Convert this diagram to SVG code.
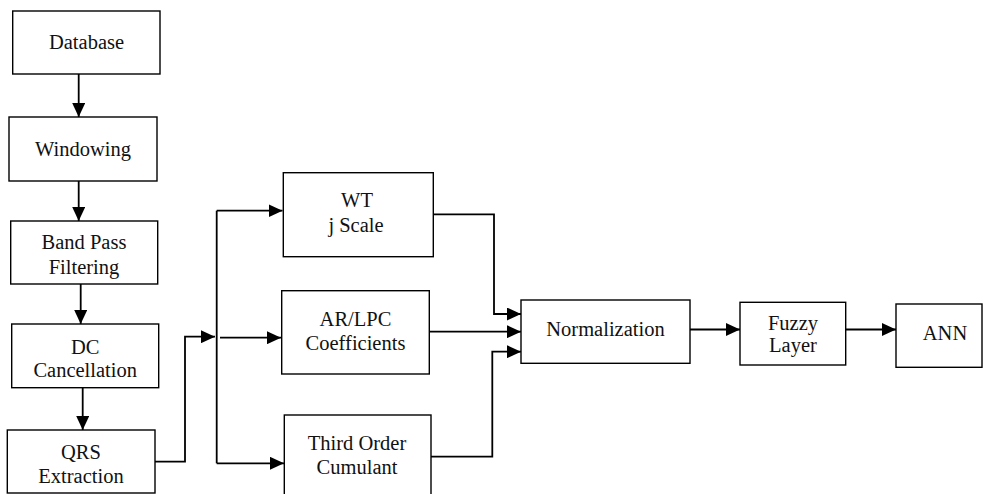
<svg xmlns="http://www.w3.org/2000/svg" width="983" height="494" viewBox="0 0 983 494">
<style>
.box{fill:#fff;stroke:#000;stroke-width:1.4}
.c{fill:none;stroke:#000;stroke-width:1.8}
text{font-family:'Liberation Serif','Times New Roman',Times,'DejaVu Serif',serif;font-size:20.5px;fill:#111;text-anchor:middle}
</style>
<defs>
<marker id="ah" markerUnits="userSpaceOnUse" markerWidth="15" markerHeight="13" refX="14" refY="6.5" orient="auto">
<path d="M0,0 L14,6.5 L0,13 z" fill="#000"/>
</marker>
</defs>
<rect width="983" height="494" fill="#fff"/>
<g id="connectors">
<path class="c" d="M78.7,74 V117" marker-end="url(#ah)"/>
<path class="c" d="M78.7,181 V221" marker-end="url(#ah)"/>
<path class="c" d="M80.7,284 V324" marker-end="url(#ah)"/>
<path class="c" d="M82.7,388 V430" marker-end="url(#ah)"/>
<path class="c" d="M155,461.7 H185 V336.7 H215" marker-end="url(#ah)"/>
<path class="c" d="M216.7,463.3 V210.7"/>
<path class="c" d="M216.7,210.7 H282.5" marker-end="url(#ah)"/>
<path class="c" d="M220,337.7 H281" marker-end="url(#ah)"/>
<path class="c" d="M216.7,463.3 H284" marker-end="url(#ah)"/>
<path class="c" d="M433.3,214.3 H494 V314 H521" marker-end="url(#ah)"/>
<path class="c" d="M429.3,331.7 H521" marker-end="url(#ah)"/>
<path class="c" d="M431,456.7 H492.3 V351.7 H521" marker-end="url(#ah)"/>
<path class="c" d="M690,329.5 H740" marker-end="url(#ah)"/>
<path class="c" d="M846,329.5 H896" marker-end="url(#ah)"/>
</g>
<g id="database"><rect class="box" x="12.7" y="11" width="147.3" height="63"/><text x="86.5" y="49">Database</text></g>
<g id="windowing"><rect class="box" x="9" y="117" width="148" height="64"/><text x="83" y="156">Windowing</text></g>
<g id="bandpass"><rect class="box" x="10.7" y="221" width="147" height="63"/><text x="84" y="249">Band Pass</text><text x="84" y="274">Filtering</text></g>
<g id="dc"><rect class="box" x="11.7" y="324" width="147" height="63.7"/><text x="85.2" y="353.5">DC</text><text x="85.2" y="377">Cancellation</text></g>
<g id="qrs"><rect class="box" x="7.3" y="430" width="147.7" height="63"/><text x="81" y="458.5">QRS</text><text x="81" y="482.5">Extraction</text></g>
<g id="wt"><rect class="box" x="283.3" y="172.7" width="150" height="84"/><text x="357" y="207">WT</text><text x="356" y="232">j Scale</text></g>
<g id="arlpc"><rect class="box" x="281.7" y="290.7" width="147.6" height="83.3"/><text x="355.5" y="326">AR/LPC</text><text x="355.5" y="349.5">Coefficients</text></g>
<g id="third"><rect class="box" x="284.3" y="415" width="146.7" height="90"/><text x="357" y="450">Third Order</text><text x="357" y="474">Cumulant</text></g>
<g id="normalization"><rect class="box" x="521" y="300" width="169" height="63.3"/><text x="605.5" y="336">Normalization</text></g>
<g id="fuzzy"><rect class="box" x="740" y="302.3" width="105.7" height="62.7"/><text x="793" y="329.5">Fuzzy</text><text x="793" y="352">Layer</text></g>
<g id="ann"><rect class="box" x="896" y="304" width="86" height="63.3"/><text x="945" y="340">ANN</text></g>
</svg>
